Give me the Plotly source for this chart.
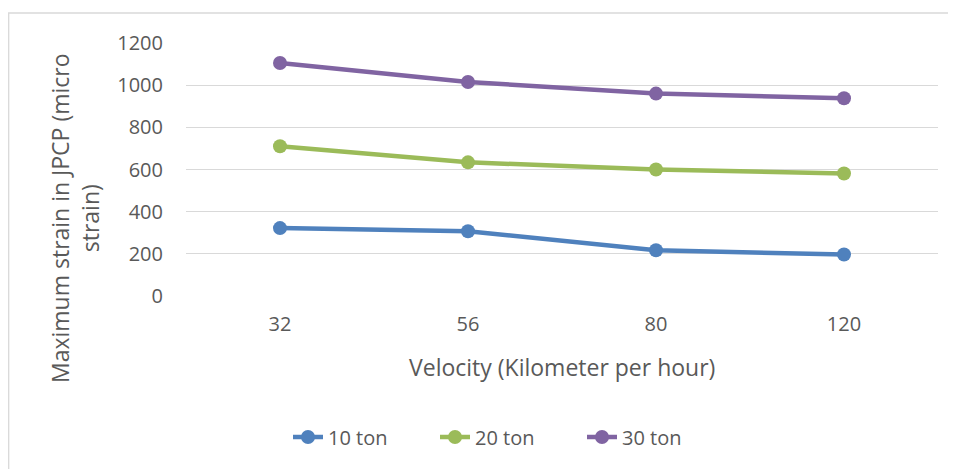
import plotly.graph_objects as go

categories = ["32", "56", "80", "120"]
series_names = ["10 ton", "20 ton", "30 ton"]
values_10 = [322, 307, 217, 197]
values_20 = [710, 634, 600, 581]
values_30 = [1105, 1015, 960, 938]
colors = ["#4F81BD", "#9BBB59", "#8064A2"]
y_ticks = [0, 200, 400, 600, 800, 1000, 1200]

# page body has an 8px default margin; work in screen pixels
OFF = 8
W, H = 956, 469
plot_left, plot_right, plot_top, plot_bottom = 186, 938, 43, 296
L = plot_left - OFF
T = plot_top - OFF
pw = plot_right - plot_left
ph = plot_bottom - plot_top
R = W - L - pw
B = H - T - ph

def px_x(p):
    return (p - plot_left) / pw

def px_y(p):
    return (plot_bottom - p) / ph

font_family = "Open Sans, Noto Sans, sans-serif"
txt = "#595959"

fig = go.Figure()
for name, vals, c in zip(series_names, [values_10, values_20, values_30], colors):
    fig.add_trace(go.Scatter(
        x=categories, y=vals, name=name, mode="lines+markers",
        line=dict(color=c, width=4.5),
        marker=dict(color=c, size=14),
    ))

fig.update_layout(
    width=W, height=H,
    margin=dict(l=L, r=R, t=T, b=B),
    paper_bgcolor="white", plot_bgcolor="white",
    font=dict(family=font_family, color=txt, size=20),
    showlegend=True,
    legend=dict(orientation="h", x=px_x(288), xanchor="left",
                y=px_y(437), yanchor="middle",
                font=dict(size=20, color=txt),
                entrywidth=102, entrywidthmode="pixels",
                traceorder="normal"),
    xaxis=dict(type="category", range=[-0.5, 3.5], showgrid=False,
               zeroline=False, showline=False, ticks="",
               ticklabelstandoff=14, tickfont=dict(size=20, color=txt)),
    yaxis=dict(range=[0, 1200], tickvals=y_ticks, showgrid=True,
               gridcolor="#D9D9D9", gridwidth=1.3, zeroline=False,
               showline=False, ticks="", ticklabelstandoff=22,
               tickfont=dict(size=20, color=txt)),
)

fig.add_annotation(text="Maximum strain in JPCP (micro<br>strain)",
                   xref="paper", yref="paper", x=px_x(75), y=px_y(218),
                   xanchor="center", yanchor="middle", textangle=-90,
                   showarrow=False, font=dict(size=23, color=txt))
fig.add_annotation(text="Velocity (Kilometer per hour)",
                   xref="paper", yref="paper", x=px_x(562), y=px_y(367),
                   xanchor="center", yanchor="middle",
                   showarrow=False, font=dict(size=23, color=txt))

fig.add_shape(type="rect", xref="paper", yref="paper",
              x0=px_x(8.7), x1=px_x(1010), y0=px_y(13), y1=px_y(500),
              line=dict(color="#D9D9D9", width=1.3), fillcolor="rgba(0,0,0,0)",
              layer="below")

fig.write_html("out.html")
